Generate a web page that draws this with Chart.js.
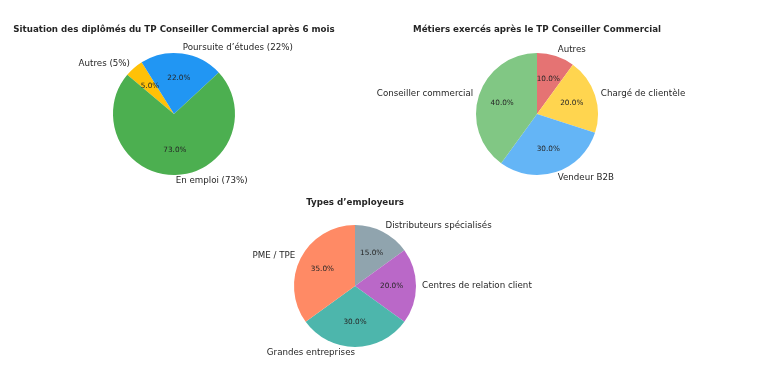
<!DOCTYPE html>
<html>
<head>
<meta charset="utf-8">
<script src="https://cdn.jsdelivr.net/npm/chart.js@4.4.1/dist/chart.umd.min.js"></script>
<style>
  html, body { margin: 0; padding: 0; background: #ffffff; }
  body { width: 766px; height: 386px; position: relative; overflow: hidden; }
  .box { position: absolute; }
</style>
</head>
<body>
<div class="box" id="b1"><canvas id="c1"></canvas></div>
<div class="box" id="b2"><canvas id="c2"></canvas></div>
<div class="box" id="b3"><canvas id="c3"></canvas></div>
<script>
// ---- Data (clockwise order from the start angle) ----
const title1 = 'Situation des diplômés du TP Conseiller Commercial après 6 mois';
const labels1 = ['Autres (5%)', 'Poursuite d’études (22%)', 'En emploi (73%)'];
const values1 = [5, 22, 73];
const colors1 = ['#FFC107', '#2196F3', '#4CAF50'];

const title2 = 'Métiers exercés après le TP Conseiller Commercial';
const labels2 = ['Autres', 'Chargé de clientèle', 'Vendeur B2B', 'Conseiller commercial'];
const values2 = [10, 20, 30, 40];
const colors2 = ['#E57373', '#FFD54F', '#64B5F6', '#81C784'];

const title3 = 'Types d’employeurs';
const labels3 = ['Distributeurs spécialisés', 'Centres de relation client', 'Grandes entreprises', 'PME / TPE'];
const values3 = [15, 20, 30, 35];
const colors3 = ['#90A4AE', '#BA68C8', '#4DB6AC', '#FF8A65'];

const W = 380, H = 200, R = 61;
const FONT = '"DejaVu Sans", sans-serif';
const TEXT = '#262626';

const piePlugin = {
  id: 'pieText',
  afterDraw(chart, args, opts) {
    const ctx = chart.ctx;
    const meta = chart.getDatasetMeta(0);
    const ds = chart.data.datasets[0];
    const total = ds.data.reduce((a, b) => a + b, 0);
    ctx.save();
    const a0 = meta.data[0];
    const cx = a0.x, cy = a0.y, r = a0.outerRadius;
    ctx.fillStyle = TEXT;
    ctx.font = 'bold 8.7px ' + FONT;
    ctx.textAlign = 'center';
    ctx.textBaseline = 'middle';
    ctx.fillText(opts.title, cx, cy + opts.titleDy);
    meta.data.forEach((arc, i) => {
      const mid = (arc.startAngle + arc.endAngle) / 2;
      const c = Math.cos(mid), s = Math.sin(mid);
      ctx.font = '8.7px ' + FONT;
      ctx.textAlign = c > 1e-6 ? 'left' : 'right';
      ctx.textBaseline = 'middle';
      ctx.fillText(chart.data.labels[i], cx + c * r * 1.1, cy + s * r * 1.1);
      ctx.font = '7.3px ' + FONT;
      ctx.textAlign = 'center';
      const pct = (ds.data[i] / total * 100).toFixed(1) + '%';
      ctx.fillText(pct, cx + c * r * 0.6, cy + s * r * 0.6);
    });
    ctx.restore();
  }
};

function makePie(id, boxId, cx, cy, labels, values, colors, rotation, title, titleDy) {
  const box = document.getElementById(boxId);
  box.style.left = (cx - W / 2) + 'px';
  box.style.top = (cy - H / 2) + 'px';
  box.style.width = W + 'px';
  box.style.height = H + 'px';
  new Chart(document.getElementById(id), {
    type: 'pie',
    data: {
      labels: labels,
      datasets: [{
        data: values,
        backgroundColor: colors,
        borderWidth: 0,
        radius: R
      }]
    },
    options: {
      responsive: true,
      maintainAspectRatio: false,
      animation: false,
      rotation: rotation,
      layout: { padding: 0 },
      plugins: {
        legend: { display: false },
        tooltip: { enabled: false },
        pieText: { title: title, titleDy: titleDy }
      }
    },
    plugins: [piePlugin]
  });
}

makePie('c1', 'b1', 174, 114, labels1, values1, colors1, -50, title1, -84);
makePie('c2', 'b2', 536.5, 114, labels2, values2, colors2, 0, title2, -84);
makePie('c3', 'b3', 355, 285.5, labels3, values3, colors3, 0, title3, -83);
</script>
</body>
</html>
